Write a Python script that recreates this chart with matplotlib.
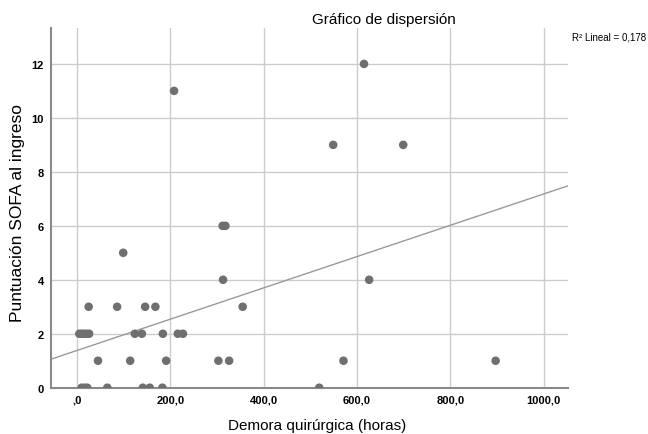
import matplotlib
matplotlib.use("Agg")
import matplotlib.pyplot as plt
from matplotlib.ticker import FuncFormatter

# demora quirurgica (horas) vs puntuacion SOFA
demora = [10, 16, 22, 65, 141, 156, 183, 519,
          45, 114, 191, 303, 326, 571, 897,
          5, 10, 15, 20, 26, 124, 139, 184, 216, 227,
          25, 86, 146, 168, 355,
          313, 626,
          99,
          312, 318,
          549, 699,
          208,
          615]
sofa = [0, 0, 0, 0, 0, 0, 0, 0,
        1, 1, 1, 1, 1, 1, 1,
        2, 2, 2, 2, 2, 2, 2, 2, 2, 2,
        3, 3, 3, 3, 3,
        4, 4,
        5,
        6, 6,
        9, 9,
        11,
        12]

x_ticks = [0, 200, 400, 600, 800, 1000]
y_ticks = [0, 2, 4, 6, 8, 10, 12]

# linear fit as drawn in the original
fit_intercept = 1.38
fit_slope = 0.0058
r2_text = "R\u00b2 Lineal = 0,178"


def fmt_x(v, _):
    s = "{:.1f}".format(v).replace(".", ",")
    return s[1:] if s.startswith("0,") else s


def main():
    plt.rcParams['font.family'] = ['Liberation Sans', 'DejaVu Sans']
    fig = plt.figure(figsize=(6.48, 4.35), dpi=100)
    ax = fig.add_axes([0.0787, 0.1064, 0.7978, 0.8269])

    xmin, xmax = -55.7, 1052
    ax.set_xlim(xmin, xmax)
    ax.set_ylim(0, 13.33)

    ax.grid(True, color='#cccccc', linewidth=1.0)
    ax.set_axisbelow(True)

    ax.plot([xmin, xmax],
            [fit_intercept + fit_slope * xmin, fit_intercept + fit_slope * xmax],
            color='#999999', linewidth=1.0, zorder=2)
    ax.scatter(demora, sofa, s=38, color='#6f6f6f', edgecolors='none',
               zorder=3)

    for side in ['top', 'right']:
        ax.spines[side].set_visible(False)
    for side in ['left', 'bottom']:
        ax.spines[side].set_color('#8a8a8a')
        ax.spines[side].set_linewidth(1.5)

    ax.set_xticks(x_ticks)
    ax.set_yticks(y_ticks)
    ax.xaxis.set_major_formatter(FuncFormatter(fmt_x))
    ax.tick_params(axis='both', length=0, labelsize=8)
    ax.tick_params(axis='x', pad=5)
    ax.tick_params(axis='y', pad=5)
    for lbl in ax.get_xticklabels() + ax.get_yticklabels():
        lbl.set_fontweight('bold')

    # axis titles placed to match the original layout
    fig.text(317 / 648, 1 - 426 / 435, 'Demora quirúrgica (horas)',
             ha='center', va='center', fontsize=11)
    fig.text(18 / 648, 1 - 213 / 435, 'Puntuación SOFA al ingreso',
             ha='center', va='center', rotation=90, fontsize=12.5)

    fig.text(384 / 648, 1 - 20 / 435, 'Gráfico de dispersión',
             ha='center', va='center', fontsize=11)
    fig.text(572 / 648, 1 - 38 / 435, r2_text, ha='left', va='center',
             fontsize=7)

    fig.savefig('out.png', dpi=100)


if __name__ == "__main__":
    main()
